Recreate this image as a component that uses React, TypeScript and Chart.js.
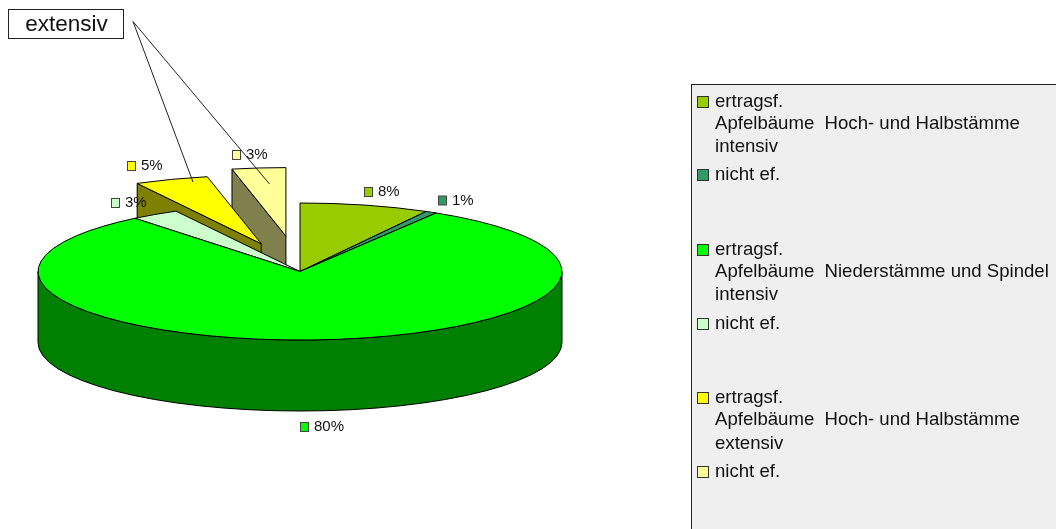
import React, { useEffect, useRef } from "react";
import { Chart, registerables } from "chart.js";

Chart.register(...registerables);

const sliceNames = ["Hoch ertragsf. intensiv", "Hoch nicht ef. intensiv", "Nieder ertragsf. intensiv", "Nieder nicht ef. intensiv", "Hoch ertragsf. extensiv", "Hoch nicht ef. extensiv"];
const sliceValues = [8, 0.7, 80.45, 3.0, 4.55, 3.3];
const explode = [0, 0, 0, 0, 113, 136];
const topColors = ["#99CC00", "#339966", "#00FF00", "#CCFFCC", "#FFFF00", "#FFFF99"];
const wallColors = ["#4D6600", "#1A4D33", "#008000", "#668066", "#808000", "#80804D"];
const paintOrder = [5, 4, 0, 1, 3, 2];

const legendEntries = [
  { color: 0, lines: ["ertragsf.", "Apfelbäume  Hoch- und Halbstämme", "intensiv"], y: [102, 123.5, 147] },
  { color: 1, lines: ["nicht ef."], y: [175] },
  { color: 2, lines: ["ertragsf.", "Apfelbäume  Niederstämme und Spindel", "intensiv"], y: [250, 272, 295] },
  { color: 3, lines: ["nicht ef."], y: [324] },
  { color: 4, lines: ["ertragsf.", "Apfelbäume  Hoch- und Halbstämme", "extensiv"], y: [398, 420, 444] },
  { color: 5, lines: ["nicht ef."], y: [472] },
];

const labelAnchors = [
  [364, 192], [438, 200.5], [300, 427], [111, 203], [127, 166], [232, 155],
];

const SQUASH = 0.2615;
const DEPTH = 71;
const FONT = '"Liberation Sans", Arial, sans-serif';
const TWO_PI = Math.PI * 2;

// the part of [a0, a1] whose rim faces the viewer (canvas angles 0..PI)
function frontArc(a0: number, a1: number): [number, number] | null {
  let s = ((a0 % TWO_PI) + TWO_PI) % TWO_PI;
  let e = s + (a1 - a0);
  if (s > Math.PI) {
    if (e < TWO_PI) return null;
    s = TWO_PI;
  }
  if (s === TWO_PI) return [0, Math.min(e - TWO_PI, Math.PI)];
  if (s >= Math.PI) return null;
  return [s, Math.min(e, Math.PI)];
}

const pie3d = {
  id: "pie3d",
  beforeDatasetsDraw(chart: any) {
    const ctx: CanvasRenderingContext2D = chart.ctx;
    const arcs = chart.getDatasetMeta(0).data;
    ctx.save();
    ctx.lineWidth = 1;
    ctx.strokeStyle = "#000";
    ctx.lineJoin = "round";
    paintOrder.forEach((i) => {
      const el = arcs[i];
      const { x, y, startAngle: a0, endAngle: a1, outerRadius: r } = el.getProps(["x", "y", "startAngle", "endAngle", "outerRadius"], true);
      const off = el.options.offset || 0;
      const mid = (a0 + a1) / 2;
      const cx = x + Math.cos(mid) * off;
      const cy = y + Math.sin(mid) * off * SQUASH;
      const ry = r * SQUASH;
      const px = (a: number) => cx + Math.cos(a) * r;
      const py = (a: number) => cy + Math.sin(a) * ry;

      ctx.fillStyle = wallColors[i];
      const side = (a: number) => {
        ctx.beginPath();
        ctx.moveTo(cx, cy);
        ctx.lineTo(px(a), py(a));
        ctx.lineTo(px(a), py(a) + DEPTH);
        ctx.lineTo(cx, cy + DEPTH);
        ctx.closePath();
        ctx.fill();
        ctx.stroke();
      };
      if (Math.cos(a0) < 0) side(a0);
      if (Math.cos(a1) > 0.001) side(a1);
      const front = frontArc(a0, a1);
      if (front) {
        ctx.beginPath();
        ctx.ellipse(cx, cy, r, ry, 0, front[0], front[1]);
        ctx.ellipse(cx, cy + DEPTH, r, ry, 0, front[1], front[0], true);
        ctx.closePath();
        ctx.fill();
        ctx.stroke();
      }
      ctx.fillStyle = topColors[i];
      ctx.beginPath();
      ctx.moveTo(cx, cy);
      ctx.ellipse(cx, cy, r, ry, 0, a0, a1);
      ctx.closePath();
      ctx.fill();
      ctx.stroke();
    });
    ctx.restore();
    return false;
  },
  afterDraw(chart: any) {
    const ctx: CanvasRenderingContext2D = chart.ctx;
    ctx.save();
    ctx.textBaseline = "middle";
    ctx.textAlign = "left";

    const total = sliceValues.reduce((a, b) => a + b, 0);
    ctx.font = `15px ${FONT}`;
    sliceValues.forEach((v, i) => {
      const [x, y] = labelAnchors[i];
      ctx.fillStyle = topColors[i];
      ctx.strokeStyle = "#444";
      ctx.lineWidth = 1;
      ctx.fillRect(x + 0.5, y - 4.5, 8, 9);
      ctx.strokeRect(x + 0.5, y - 4.5, 8, 9);
      ctx.fillStyle = "#111";
      ctx.fillText(`${Math.round((v / total) * 100)}%`, x + 14, y);
    });

    ctx.fillStyle = "#EFEFEF";
    ctx.strokeStyle = "#222";
    ctx.lineWidth = 1;
    ctx.fillRect(691.5, 84.5, 380, 460);
    ctx.strokeRect(691.5, 84.5, 380, 460);
    ctx.font = `18.6px ${FONT}`;
    legendEntries.forEach((e) => {
      ctx.fillStyle = topColors[e.color];
      ctx.strokeStyle = "#333";
      ctx.fillRect(697.5, e.y[0] - 5.5, 11, 11);
      ctx.strokeRect(697.5, e.y[0] - 5.5, 11, 11);
      ctx.fillStyle = "#111";
      e.lines.forEach((t, k) => ctx.fillText(t, 715, e.y[k]));
    });

    ctx.strokeStyle = "#222";
    ctx.beginPath();
    ctx.moveTo(193, 182);
    ctx.lineTo(133, 21.5);
    ctx.lineTo(269.5, 184);
    ctx.stroke();
    ctx.fillStyle = "#fff";
    ctx.fillRect(8.5, 9.5, 115, 29);
    ctx.strokeRect(8.5, 9.5, 115, 29);
    ctx.fillStyle = "#111";
    ctx.textAlign = "center";
    ctx.font = `22.5px ${FONT}`;
    ctx.fillText("extensiv", 66.5, 24.5);
    ctx.restore();
  },
};

export default function App() {
  const ref = useRef<HTMLCanvasElement>(null);
  useEffect(() => {
    const chart = new Chart(ref.current!, {
      type: "pie",
      data: {
        labels: sliceNames,
        datasets: [{ data: sliceValues, backgroundColor: topColors, offset: explode, borderWidth: 1, borderColor: "#000" }],
      },
      options: {
        responsive: false,
        animation: false,
        radius: 262,
        events: [],
        layout: { padding: { left: 0, right: 456, top: 14, bottom: 0 } },
        plugins: { legend: { display: false }, tooltip: { enabled: false }, title: { display: false } },
      } as any,
      plugins: [pie3d],
    });
    return () => chart.destroy();
  }, []);
  return (
    <div style={{ position: "fixed", left: 0, top: 0, width: 1056, height: 529, overflow: "hidden", background: "#fff" }}>
      <canvas ref={ref} width={1056} height={529} style={{ display: "block" }} />
    </div>
  );
}
